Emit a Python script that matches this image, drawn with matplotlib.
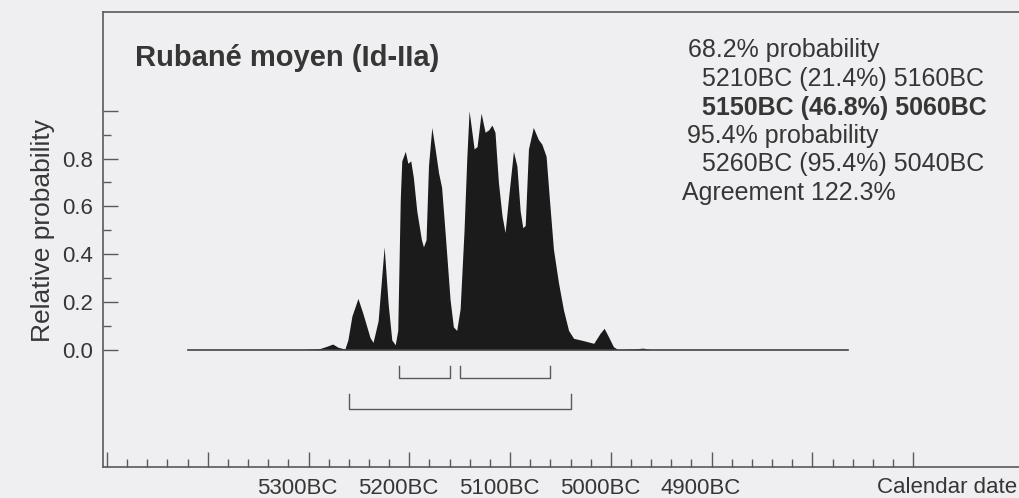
import matplotlib
matplotlib.use("Agg")
import matplotlib.pyplot as plt
from matplotlib.transforms import ScaledTranslation

# calendar years BC and relative probability
years_bc = [5420, 5308, 5289, 5283, 5276, 5271, 5264, 5261, 5257, 5251, 5246,
            5239, 5236, 5231, 5225, 5221, 5217.4, 5214, 5211.5, 5209, 5207.5,
            5204, 5201.5, 5198.6, 5196, 5192.6, 5188, 5186, 5183.4, 5181,
            5177.7, 5174.4, 5171, 5168, 5164.5, 5159.6, 5156.3, 5153, 5149.6,
            5145.7, 5143, 5140.7, 5135.7, 5132.8, 5128.8, 5124.8, 5121.3, 5118,
            5115, 5111.6, 5108, 5105, 5101.7, 5096.7, 5093.3, 5090, 5087.4,
            5085, 5081.8, 5077, 5072, 5068.5, 5064.3, 5061, 5057, 5052, 5047,
            5042, 5037, 5027, 5017, 5010.7, 5006.7, 5002.4, 4997.5, 4993, 4976,
            4968, 4961, 4765]
prob = [0, 0, 0.004, 0.012, 0.023, 0.01, 0.002, 0.04, 0.14, 0.214, 0.15,
        0.05, 0.03, 0.12, 0.43, 0.19, 0.04, 0.02, 0.08, 0.63, 0.79,
        0.83, 0.78, 0.79, 0.72, 0.58, 0.46, 0.43, 0.46, 0.77,
        0.93, 0.84, 0.74, 0.68, 0.49, 0.21, 0.095, 0.08, 0.17,
        0.5, 0.80, 1.0, 0.84, 0.85, 0.99, 0.91, 0.92, 0.94,
        0.91, 0.70, 0.56, 0.49, 0.63, 0.83, 0.77, 0.58, 0.51,
        0.52, 0.84, 0.93, 0.88, 0.86, 0.81, 0.63, 0.42, 0.28, 0.165,
        0.08, 0.047, 0.037, 0.026, 0.068, 0.089, 0.054, 0.012, 0, 0.003,
        0.006, 0, 0]

range_68 = [(5210, 5160), (5150, 5060)]
range_95 = [(5260, 5040)]

major_years = [5500, 5400, 5300, 5200, 5100, 5000, 4900, 4800, 4700]
major_labels = ["", "", "5300BC", "5200BC", "5100BC", "5000BC", "4900BC", "", ""]
minor_years = list(range(5500, 4699, -20))
y_major = [0.0, 0.2, 0.4, 0.6, 0.8, 1.0]
y_labels = ["0.0", "0.2", "0.4", "0.6", "0.8", ""]
y_minor = [0.1, 0.3, 0.5, 0.7, 0.9]

title = "Rubané moyen (Id-IIa)"
info_lines = [
    ("68.2% probability", 688, 50, "normal"),
    ("5210BC (21.4%) 5160BC", 702, 79, "normal"),
    ("5150BC (46.8%) 5060BC", 702, 108, "bold"),
    ("95.4% probability", 687, 136, "normal"),
    ("5260BC (95.4%) 5040BC", 702, 164, "normal"),
    ("Agreement 122.3%", 682, 193, "normal"),
]

bg = "#efeff1"
ink = "#363636"
line_c = "#5a5a5a"
plt.rcParams["font.family"] = ["Liberation Sans", "DejaVu Sans"]

W, H = 1020, 498
fig = plt.figure(figsize=(W / 100, H / 100), dpi=100, facecolor=bg)
ax = fig.add_axes([103 / W, (H - 467) / H, 1 - 103 / W, (467 - 12) / H])
ax.set_facecolor(bg)

ax.fill_between(years_bc, 0, prob, color="#1b1b1b", lw=0)
ax.plot([years_bc[0], years_bc[-1]], [0, 0], color="#444444", lw=1.2)

# probability range brackets
for a, b in range_68:
    ax.plot([a, a, b, b], [-0.069, -0.119, -0.119, -0.069], color=line_c, lw=1)
for a, b in range_95:
    ax.plot([a, a, b, b], [-0.186, -0.249, -0.249, -0.186], color=line_c, lw=1)

ax.set_xlim(5504, 4594)
ax.set_ylim(-0.492, 1.4136)

for s in ["left", "top", "bottom"]:
    ax.spines[s].set_color(line_c)
    ax.spines[s].set_linewidth(1.2)
ax.spines["right"].set_visible(False)

ax.set_xticks(major_years)
ax.set_xticklabels(major_labels)
ax.set_xticks(minor_years, minor=True)
ax.set_yticks(y_major)
ax.set_yticklabels(y_labels)
ax.set_yticks(y_minor, minor=True)
ax.tick_params(which="major", direction="in", length=10.5, width=1, color=line_c,
               labelsize=16, labelcolor=ink)
ax.tick_params(which="minor", direction="in", length=5.8, width=1, color=line_c)
ax.tick_params(axis="y", pad=7)
ax.tick_params(axis="x", pad=8)

shift = ScaledTranslation(-11 / 100, 0, fig.dpi_scale_trans)
for lbl in ax.get_xticklabels():
    lbl.set_transform(lbl.get_transform() + shift)

fig.text(135 / W, 1 - 58 / H, title, fontsize=21, fontweight="bold", color=ink,
         ha="left", va="center")
for txt, x, y, wt in info_lines:
    fig.text(x / W, 1 - y / H, txt, fontsize=18, fontweight=wt, color=ink,
             ha="left", va="center")

fig.text(43 / W, 1 - 230 / H, "Relative probability", rotation=90, fontsize=19,
         color=ink, ha="center", va="center")
fig.text(1017 / W, 1 - 487 / H, "Calendar date", fontsize=16, color=ink,
         ha="right", va="center")

fig.savefig("out.png", dpi=100, facecolor=bg)
